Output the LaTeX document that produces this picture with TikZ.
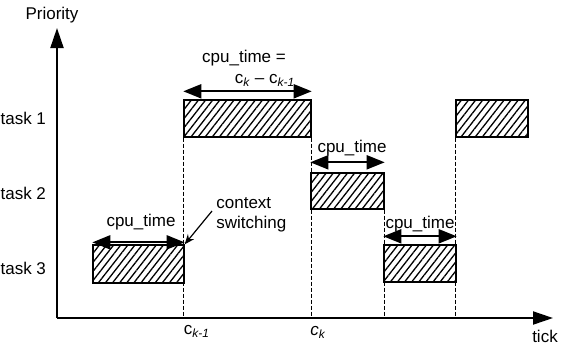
\documentclass[tikz,border=0pt]{standalone}
\usepackage{fontspec}
\setmainfont{Liberation Sans}
\usetikzlibrary{arrows.meta,patterns.meta,fit}

\begin{document}
\begin{tikzpicture}[x=0.5pt, y=-0.5pt, font=\fontsize{8.5}{10}\selectfont,
  taskbox/.style={draw, line width=0.7pt, inner sep=0pt, pattern={Lines[angle=52,distance=2.8pt,line width=0.65pt]}},
  axis/.style={line width=1pt, -{Triangle[length=10pt,width=6.5pt]}},
  span/.style={line width=1pt, {Triangle[length=9pt,width=7pt]}-{Triangle[length=9pt,width=7pt]}},
  tickline/.style={line width=0.7pt, dash pattern=on 2pt off 1pt}]
	\useasboundingbox (0,0) rectangle (568,345);
	\coordinate (o) at (57,318);
	\coordinate (ytop) at (57,28);
	\coordinate (xend) at (553,318);
	\draw[axis] (o) -- (ytop);
	\draw[axis] (o) -- (xend);
	\node (prio) at (52,15) {Priority};
	\node (tick) at (545,336) {tick};
	\node[anchor=east] (t1) at (53,118) {task 1};
	\node[anchor=east] (t2) at (53,193) {task 2};
	\node[anchor=east] (t3) at (53,268) {task 3};
	\node[taskbox, fit={(93,245) (184,283)}] (b1) {};
	\node[taskbox, fit={(184,100) (311,137)}] (b2) {};
	\node[taskbox, fit={(311,173) (384,209)}] (b3) {};
	\node[taskbox, fit={(384,245) (456,282)}] (b4) {};
	\node[taskbox, fit={(456,100) (528,137)}] (b5) {};
	\draw[tickline] (b2.south west) -- (b2.south west |- o);
	\draw[tickline] (b2.south east) -- (b2.south east |- o);
	\draw[tickline] (b3.south east) -- (b3.south east |- o);
	\draw[tickline] (b5.south west) -- (b5.south west |- o);
	\draw[span] ([yshift=1pt]b1.north west) -- ([yshift=1pt]b1.north east);
	\draw[span] ([yshift=4pt]b2.north west) -- ([yshift=4pt]b2.north east);
	\draw[span] ([yshift=5pt]b3.north west) -- ([yshift=5pt]b3.north east);
	\draw[span] ([yshift=4pt]b4.north west) -- ([yshift=4pt]b4.north east);
	\node (l1) at (141,222) {cpu\_time};
	\node (l2a) at (244,58) {cpu\_time =};
	\node (l2b) at (265,80) {c\textsubscript{\itshape k} -- c\textsubscript{\itshape k-1}};
	\node (l3) at (352,148) {cpu\_time};
	\node (l4) at (420,224) {cpu\_time};
	\node[anchor=west, align=left, inner sep=0pt] (cs) at (216,215) {context\\switching};
	\draw[line width=0.6pt, -{Stealth[length=5pt,width=4pt]}] ([xshift=-2pt,yshift=2pt]cs.west) -- (b1.north east);
	\node (ck1) at (197,331) {c\textsubscript{\itshape k-1}};
	\node (ck) at (318,332) {\itshape c\textsubscript{k}};
\end{tikzpicture}
\end{document}
